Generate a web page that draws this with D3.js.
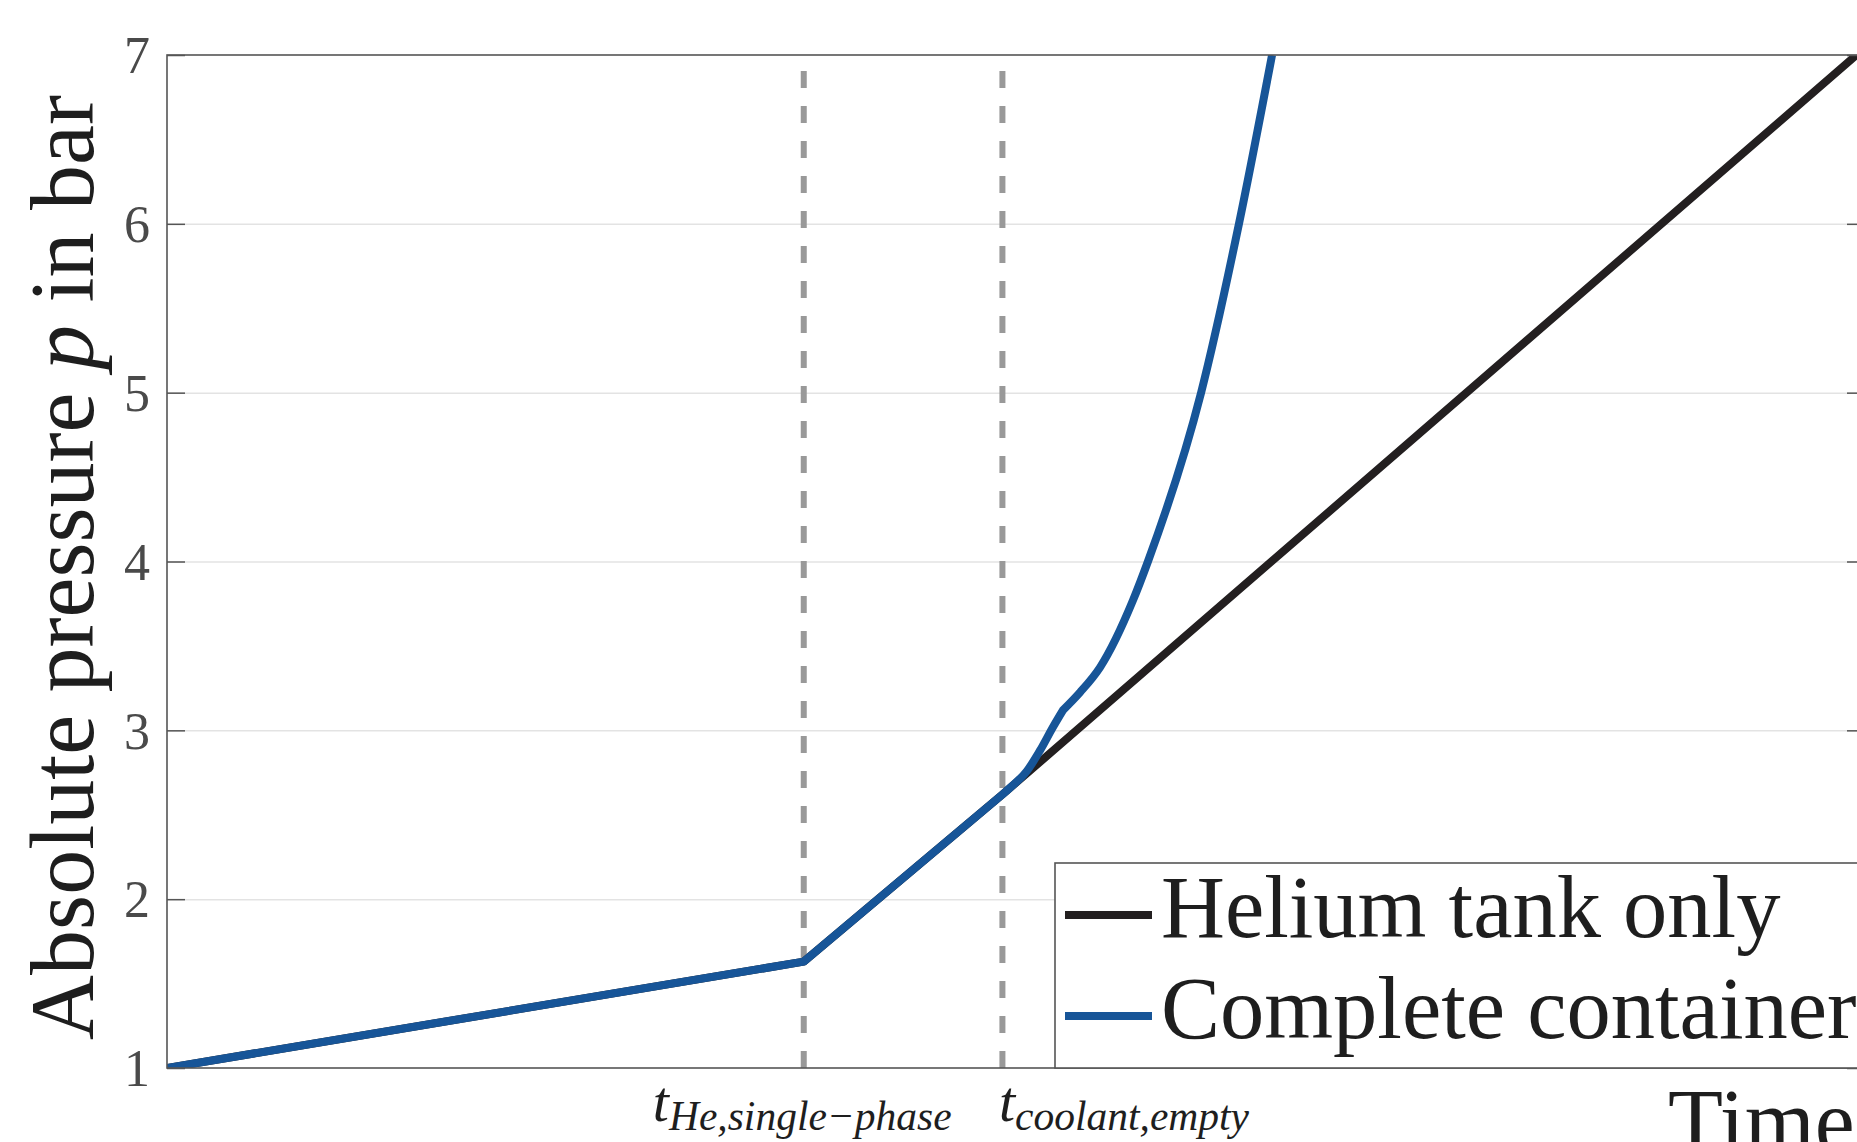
<!DOCTYPE html>
<html>
<head>
<meta charset="utf-8">
<script src="https://cdn.jsdelivr.net/npm/d3@7"></script>
<style>
  html, body { margin: 0; padding: 0; background: #fff; overflow: hidden; }
  svg { display: block; }
  text { font-family: 'Liberation Serif', 'Times New Roman', serif; }
</style>
</head>
<body>
<svg id="chart" width="1857" height="1142"></svg>
<script>
// ---------------- data ----------------
// time in arbitrary units (0..100 across the axes), pressure in bar
const tHeSinglePhase = 37.5;
const tCoolantEmpty = 49.2;

const heliumTankTime     = [0, 37.5, 49.2, 99.5];
const heliumTankPressure = [1.0, 1.63, 2.62, 7.0];

// complete container: linear part, transition part (up to kink), steep part
const containerTime     = [0, 37.5, 49.2, 49.65, 50.65, 51.41, 52.18, 52.77, 53.77, 54.95, 56.89, 57.77, 60.9, 63.13, 65.08];
const containerPressure = [1.0, 1.63, 2.62, 2.66, 2.76, 2.88, 3.02, 3.12, 3.225, 3.373, 3.77, 4.0, 5.0, 6.0, 7.0];
const containerBreaks   = [2, 7]; // indices where the curve has corners (t_coolant,empty and kink)

const yTicks = [1, 2, 3, 4, 5, 6, 7];
const markerTimes = [tHeSinglePhase, tCoolantEmpty];
const markerLabels = ["He,single\u2212phase", "coolant,empty"];
const seriesNames = ["Helium tank only", "Complete container"];
const seriesColors = ["#231f20", "#175598"];
const yLabel = "Absolute pressure ";
const xLabel = "Time";

// ---------------- layout ----------------
const pL = 167, pR = 1865, pT = 55, pB = 1068;
const svg = d3.select("#chart");
const x = d3.scaleLinear().domain([0, 100]).range([pL, pR]);
const y = d3.scaleLinear().domain([1, 7]).range([pB, pT]);
const FONT = "'Liberation Serif', 'Times New Roman', serif";

svg.append("defs").append("clipPath").attr("id", "clip")
  .append("rect").attr("x", pL).attr("y", pT).attr("width", pR - pL).attr("height", pB - pT);

// grid
svg.append("g")
  .attr("transform", `translate(${pL},0)`)
  .call(d3.axisLeft(y).tickValues(yTicks.slice(1, -1)).tickSize(-(pR - pL)).tickFormat(""))
  .call(g => g.select(".domain").remove())
  .call(g => g.selectAll("line").attr("stroke", "#e3e3e3").attr("stroke-width", 1.5));

// vertical dashed marker lines
svg.append("g").selectAll("line").data(markerTimes).join("line")
  .attr("x1", d => x(d)).attr("x2", d => x(d))
  .attr("y1", pB).attr("y2", pT)
  .attr("stroke", "#999999").attr("stroke-width", 6)
  .attr("stroke-dasharray", "17 18");

// series
const linLine = d3.line().x(d => x(d[0])).y(d => y(d[1]));
const smoothLine = d3.line().x(d => x(d[0])).y(d => y(d[1])).curve(d3.curveMonotoneX);
const helium = heliumTankTime.map((t, i) => [t, heliumTankPressure[i]]);
const container = containerTime.map((t, i) => [t, containerPressure[i]]);
function containerPath(pts) {
  const a = pts.slice(0, containerBreaks[0] + 1);
  const b = pts.slice(containerBreaks[0], containerBreaks[1] + 1);
  const c = pts.slice(containerBreaks[1]);
  return linLine(a) + smoothLine(b).replace(/^M[^LC]*/, "") + smoothLine(c).replace(/^M[^LC]*/, "");
}
const plotG = svg.append("g").attr("clip-path", "url(#clip)");
plotG.append("path").datum(helium)
  .attr("d", linLine)
  .attr("fill", "none").attr("stroke", seriesColors[0])
  .attr("stroke-width", 8).attr("stroke-linejoin", "round");
plotG.append("path").datum(container)
  .attr("d", containerPath)
  .attr("fill", "none").attr("stroke", seriesColors[1])
  .attr("stroke-width", 8).attr("stroke-linejoin", "round");

// axes
const axisColor = "#555555";
const yAxis = svg.append("g")
  .attr("transform", `translate(${pL},0)`)
  .call(d3.axisLeft(y).tickValues(yTicks).tickSize(-18).tickPadding(17).tickFormat(d3.format("d")));
yAxis.select(".domain").remove();
yAxis.selectAll("line").attr("stroke", axisColor).attr("stroke-width", 1.5);
yAxis.selectAll("text")
  .attr("font-family", FONT)
  .attr("font-size", 52)
  .attr("fill", "#4a4a4a")
  .attr("dy", "0.34em");

const yAxisR = svg.append("g")
  .attr("transform", `translate(${pR},0)`)
  .call(d3.axisRight(y).tickValues(yTicks).tickSize(-18).tickFormat(""));
yAxisR.select(".domain").remove();
yAxisR.selectAll("line").attr("stroke", axisColor).attr("stroke-width", 1.5);

// box
svg.append("rect")
  .attr("x", pL).attr("y", pT).attr("width", pR - pL).attr("height", pB - pT)
  .attr("fill", "none").attr("stroke", axisColor).attr("stroke-width", 1.6);

// x tick labels (math style)
const xAxis = svg.append("g")
  .attr("transform", `translate(0,${pB})`)
  .call(d3.axisBottom(x).tickValues(markerTimes).tickSize(0).tickFormat(""));
xAxis.select(".domain").remove();
xAxis.selectAll(".tick").each(function (d, i) {
  const g = d3.select(this);
  const txt = g.append("text")
    .attr("x", i === 0 ? -2 : -4)
    .attr("y", 53)
    .attr("text-anchor", i === 0 ? "middle" : "start")
    .attr("font-family", FONT)
    .attr("font-style", "italic")
    .attr("fill", "#1e1e1e");
  txt.append("tspan").attr("font-size", 58).text("t");
  txt.append("tspan").attr("font-size", 41.5).attr("dy", 9).text(markerLabels[i]);
});

// y label
const yl = svg.append("text")
  .attr("transform", `translate(93,${(pT + pB) / 2 + 6}) rotate(-90)`)
  .attr("text-anchor", "middle")
  .attr("font-family", FONT)
  .attr("font-size", 90)
  .attr("fill", "#1e1e1e");
yl.append("tspan").text(yLabel);
yl.append("tspan").attr("font-style", "italic").text("p");
yl.append("tspan").text(" in bar");

// x label
svg.append("text")
  .attr("x", 1668).attr("y", 1152)
  .attr("font-family", FONT)
  .attr("font-size", 90)
  .attr("fill", "#1e1e1e")
  .text(xLabel);

// legend
const lg = svg.append("g");
lg.append("rect")
  .attr("x", 1055).attr("y", 863).attr("width", 900).attr("height", pB - 863)
  .attr("fill", "#fff").attr("stroke", axisColor).attr("stroke-width", 1.6);
const legendY = [915, 1016];
seriesNames.forEach((name, i) => {
  lg.append("line")
    .attr("x1", 1065).attr("x2", 1152)
    .attr("y1", legendY[i]).attr("y2", legendY[i])
    .attr("stroke", seriesColors[i]).attr("stroke-width", 8);
  lg.append("text")
    .attr("x", 1161).attr("y", legendY[i] + 22)
    .attr("font-family", FONT)
    .attr("font-size", 88.5)
    .attr("fill", "#1e1e1e")
    .text(name);
});
</script>
</body>
</html>
